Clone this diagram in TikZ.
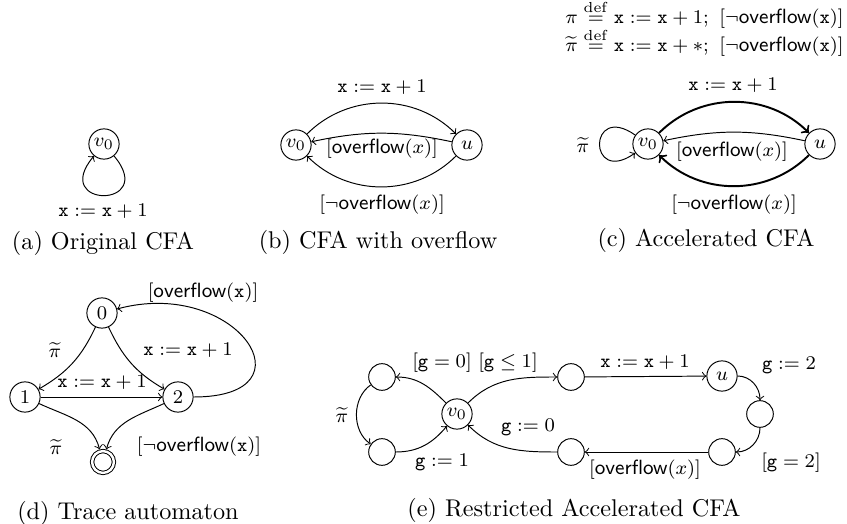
\documentclass[tikz,border=0pt]{standalone}
\usepackage{amsmath,amssymb}
\usepackage{tikz}
\newcommand{\ovf}{\textsf{overflow}}
\newcommand{\tpi}{\widetilde{\pi}}
\newcommand{\incx}{$\mathtt{x} := \mathtt{x} + 1$}
\tikzset{
  loc/.style={circle, draw, inner sep=0.5pt, minimum size=12.5pt},
  hole/.style={circle, draw, inner sep=0pt, minimum size=11pt},
  accloc/.style={circle, draw, double, double distance=1pt, inner sep=0pt, minimum size=9pt, outer sep=0.9pt},
  lbl/.style={inner sep=0pt},
  subcap/.style={font=\fontsize{10}{12}\selectfont, inner sep=0pt}
}

\begin{document}
\begin{tikzpicture}[x=0.413pt, y=-0.413pt, font=\fontsize{8.5}{10}\selectfont]
    \useasboundingbox (0,0) rectangle (847,524);
    % (a) original CFA
    \node[loc] (a0) at (104,144) {$v_0$};
    \draw[->] (a0) to[out=-50, in=-130, looseness=8.8] (a0);
    \node[lbl] (la) at (103,211) {\incx};
    \node[subcap] (capa) at (103,243) {(a) Original CFA};
    % (b) CFA with overflow
    \node[loc] (b0) at (296,145) {$v_0$};
    \node[loc] (bu) at (467,145) {$u$};
    \draw[->] (b0) to[bend left=45] (bu);
    \draw[->] (bu) to[bend right=12] (b0);
    \draw[->] (bu) to[bend left=45] (b0);
    \node[lbl] (lb1) at (382,87) {\incx};
    \node[lbl] (lb2) at (382,149) {$[\ovf(x)]$};
    \node[lbl] (lb3) at (382,205) {$[\neg\ovf(x)]$};
    \node[subcap] (capb) at (378,242) {(b) CFA with overflow};
    % (c) accelerated CFA
    \node[lbl, anchor=base west] (defpi) at (565,24) {$\pi \overset{\mathrm{def}}{=} \mathtt{x} := \mathtt{x} + 1;\ [\neg\ovf(\mathtt{x})]$};
    \node[lbl, anchor=base west] (deftpi) at (565,52) {$\tpi \overset{\mathrm{def}}{=} \mathtt{x} := \mathtt{x} + *;\ [\neg\ovf(\mathtt{x})]$};
    \node[loc] (c0) at (648,144) {$v_0$};
    \node[loc] (cu) at (820,144) {$u$};
    \draw[->, thick] (c0) to[bend left=45] (cu);
    \draw[->] (cu) to[bend right=12] (c0);
    \draw[->, thick] (cu) to[bend left=45] (c0);
    \draw[->] (c0) to[out=145, in=215, looseness=8.3] (c0);
    \node[lbl] (lc1) at (733,85) {\incx};
    \node[lbl] (lc2) at (732,152) {$[\ovf(x)]$};
    \node[lbl] (lc3) at (734,205) {$[\neg\ovf(x)]$};
    \node[lbl] (lc4) at (583,145) {$\tpi$};
    \node[subcap] (capc) at (706,240) {(c) Accelerated CFA};
    % (d) trace automaton
    \node[loc] (d0) at (102,313) {$0$};
    \node[loc] (d1) at (25,397) {$1$};
    \node[loc] (d2) at (178,397) {$2$};
    \node[accloc] (dacc) at (103,462) {};
    \draw[->] (d0) to[out=245, in=30] (d1);
    \draw[->] (d0) to[out=-65, in=150] (d2);
    \draw[->] (d1) -- (d2);
    \draw[->] (d2) to[out=0, in=15, looseness=2.7] (d0);
    \draw[->] (d1) to[out=-25, in=105] (dacc);
    \draw[->] (d2) to[out=205, in=75] (dacc);
    \node[lbl] (ld1) at (55,350) {$\tpi$};
    \node[lbl] (ld2) at (188,350) {\incx};
    \node[lbl] (ld3) at (102,382) {\incx};
    \node[lbl] (ld4) at (203,293) {$[\ovf(\mathtt{x})]$};
    \node[lbl] (ld5) at (56,447) {$\tpi$};
    \node[lbl] (ld6) at (199,447) {$[\neg\ovf(\mathtt{x})]$};
    \node[subcap] (capd) at (128,513) {(d) Trace automaton};
    % (e) restricted accelerated CFA
    \node[loc] (e0) at (457,414) {$v_0$};
    \node[hole] (etl) at (382,377) {};
    \node[hole] (ebl) at (382,452) {};
    \node[hole] (etr) at (571,377) {};
    \node[loc] (eu) at (722,376) {$u$};
    \node[hole] (er) at (760,414) {};
    \node[hole] (ebr) at (722,452) {};
    \node[hole] (ebm) at (571,452) {};
    \draw[->] (e0) to[out=135, in=0] (etl);
    \draw[->] (etl) to[out=215, in=145] (ebl);
    \draw[->] (ebl) to[out=0, in=230] (e0);
    \draw[->] (e0) to[out=45, in=180] (etr);
    \draw[->] (etr) -- (eu);
    \draw[->] (eu) to[out=0, in=90] (er);
    \draw[->] (er) to[out=270, in=0] (ebr);
    \draw[->] (ebr) -- (ebm);
    \draw[->] (ebm) to[out=180, in=-45] (e0);
    \node[lbl] (le1) at (442,363) {$[\mathtt{g} = 0]$};
    \node[lbl] (le2) at (508,363) {$[\mathtt{g} \leq 1]$};
    \node[lbl] (le3) at (342,415) {$\tpi$};
    \node[lbl] (le4) at (442,462) {$\mathtt{g} := 1$};
    \node[lbl] (le5) at (528,427) {$\mathtt{g} := 0$};
    \node[lbl] (le6) at (645,362) {\incx};
    \node[lbl] (le7) at (789,365) {$\mathtt{g} := 2$};
    \node[lbl] (le8) at (791,463) {$[\mathtt{g} = 2]$};
    \node[lbl] (le9) at (645,470) {$[\ovf(x)]$};
    \node[subcap] (cape) at (574,510) {(e) Restricted Accelerated CFA};
\end{tikzpicture}
\end{document}
